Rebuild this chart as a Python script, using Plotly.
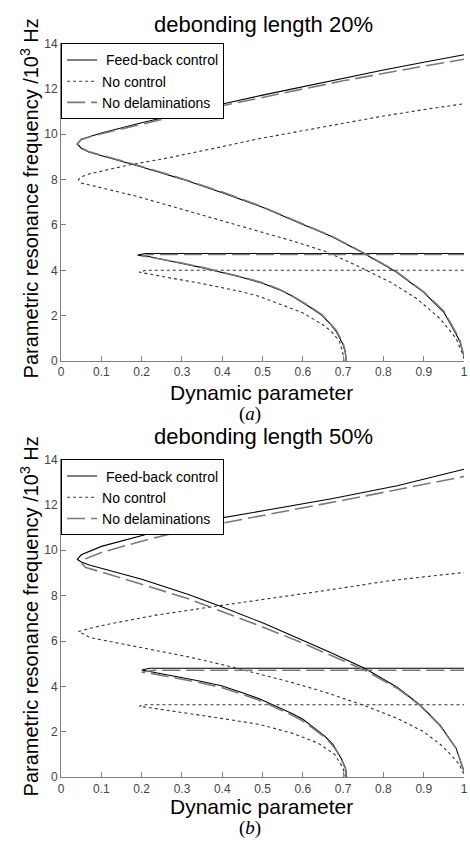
import plotly.graph_objects as go

# ---------------- data ----------------
series_names = [" Feed-back control", "No control", "No delaminations"]
x_tick_vals = [0, 0.1, 0.2, 0.3, 0.4, 0.5, 0.6, 0.7, 0.8, 0.9, 1]
x_tick_text = ["0", "0.1", "0.2", "0.3", "0.4", "0.5", "0.6", "0.7", "0.8", "0.9", "1"]
y_tick_vals = [0, 2, 4, 6, 8, 10, 12, 14]
panel_titles = ["debonding length 20%", "debonding length 50%"]
panel_tags = ["(<i>a</i>)", "(<i>b</i>)"]

# ---- panel (a): debonding length 20% ----
fb_a_x = [1.0, 0.99, 0.98, 0.95, 0.9, 0.83, 0.75, 0.67, 0.59, 0.5, 0.4, 0.3, 0.2, 0.12, 0.07, 0.05, 0.04,
          0.05, 0.07, 0.1, 0.2, 0.3, 0.4, 0.5, 0.6, 0.7, 0.8, 0.9, 1.0, None,
          0.708, 0.705, 0.7, 0.69, 0.683, 0.665, 0.647, 0.62, 0.598, 0.57, 0.541, 0.5, 0.45, 0.4, 0.35, 0.3, 0.25, 0.22, 0.19,
          0.21, 1.0]
fb_a_y = [0.2, 0.85, 1.2, 2.15, 3.03, 3.95, 4.76, 5.5, 6.1, 6.78, 7.42, 8.02, 8.55, 8.95, 9.2, 9.38, 9.57,
          9.78, 9.9, 10.05, 10.5, 10.93, 11.33, 11.72, 12.1, 12.47, 12.83, 13.17, 13.5, None,
          0.0, 0.4, 0.72, 1.1, 1.3, 1.7, 2.02, 2.35, 2.6, 2.9, 3.15, 3.43, 3.68, 3.9, 4.12, 4.3, 4.5, 4.6, 4.67,
          4.74, 4.74]

nc_a_x = [1.0, 0.997, 0.98, 0.94, 0.883, 0.818, 0.736, 0.655, 0.573, 0.49, 0.4, 0.316, 0.25, 0.19, 0.12, 0.07, 0.05, 0.043,
          0.05, 0.07, 0.12, 0.17, 0.25, 0.316, 0.4, 0.491, 0.6, 0.7, 0.8, 0.9, 1.0, None,
          0.702, 0.7, 0.691, 0.671, 0.65, 0.63, 0.6, 0.573, 0.53, 0.492, 0.45, 0.398, 0.34, 0.275, 0.23, 0.194,
          0.21, 1.0]
nc_a_y = [0.1, 0.29, 1.01, 1.88, 2.75, 3.47, 4.19, 4.84, 5.3, 5.72, 6.2, 6.62, 6.95, 7.25, 7.55, 7.75, 7.85, 8.0,
          8.12, 8.25, 8.45, 8.65, 8.9, 9.13, 9.45, 9.8, 10.15, 10.5, 10.8, 11.08, 11.34, None,
          0.0, 0.29, 0.87, 1.3, 1.6, 1.81, 2.12, 2.31, 2.6, 2.85, 3.05, 3.25, 3.45, 3.65, 3.8, 3.92,
          4.0, 4.0]

nd_a_x = [1.0, 0.99, 0.98, 0.95, 0.9, 0.83, 0.75, 0.67, 0.59, 0.5, 0.4, 0.3, 0.2, 0.12, 0.07, 0.05, 0.04,
          0.05, 0.07, 0.1, 0.2, 0.3, 0.4, 0.5, 0.6, 0.7, 0.8, 0.9, 1.0, None,
          0.708, 0.705, 0.7, 0.69, 0.683, 0.665, 0.647, 0.62, 0.598, 0.57, 0.541, 0.5, 0.45, 0.4, 0.35, 0.3, 0.25, 0.22, 0.2,
          0.22, 1.0]
nd_a_y = [0.2, 0.9, 1.25, 2.2, 3.05, 3.97, 4.78, 5.52, 6.12, 6.8, 7.45, 8.04, 8.58, 8.97, 9.22, 9.4, 9.57,
          9.76, 9.88, 10.02, 10.45, 10.86, 11.25, 11.63, 11.99, 12.35, 12.68, 13.0, 13.3, None,
          0.0, 0.45, 0.78, 1.15, 1.35, 1.72, 2.05, 2.38, 2.62, 2.92, 3.17, 3.45, 3.7, 3.92, 4.13, 4.32, 4.5, 4.58, 4.63,
          4.7, 4.7]

# ---- panel (b): debonding length 50% ----
fb_b_x = [1.0, 0.997, 0.98, 0.94, 0.89, 0.834, 0.753, 0.67, 0.59, 0.5, 0.4, 0.316, 0.2, 0.153, 0.1, 0.07, 0.05, 0.04,
          0.05, 0.07, 0.1, 0.222, 0.345, 0.508, 0.671, 0.834, 1.0, None,
          0.709, 0.706, 0.696, 0.685, 0.675, 0.655, 0.63, 0.6, 0.573, 0.53, 0.492, 0.45, 0.398, 0.34, 0.275, 0.23, 0.2,
          0.22, 1.0]
fb_b_y = [0.25, 0.42, 1.29, 2.3, 3.19, 3.96, 4.8, 5.48, 6.1, 6.8, 7.5, 8.05, 8.72, 8.94, 9.2, 9.35, 9.48, 9.6,
          9.8, 9.95, 10.17, 10.75, 11.26, 11.76, 12.27, 12.84, 13.57, None,
          0.0, 0.4, 0.8, 1.15, 1.43, 1.8, 2.15, 2.55, 2.8, 3.15, 3.45, 3.72, 4.03, 4.25, 4.46, 4.62, 4.72,
          4.8, 4.8]

nc_b_x = [1.0, 0.995, 0.989, 0.948, 0.899, 0.834, 0.752, 0.654, 0.573, 0.492, 0.414, 0.316, 0.194, 0.12, 0.072, 0.043,
          0.072, 0.12, 0.235, 0.398, 0.491, 0.654, 0.817, 1.0, None,
          0.706, 0.705, 0.699, 0.679, 0.638, 0.573, 0.491, 0.398, 0.275, 0.194,
          0.21, 1.0]
nc_b_y = [0.15, 0.27, 0.56, 1.35, 2.01, 2.59, 3.16, 3.75, 4.17, 4.55, 4.9, 5.3, 5.72, 5.98, 6.15, 6.42,
          6.56, 6.75, 7.14, 7.57, 7.8, 8.22, 8.66, 9.02, None,
          0.0, 0.06, 0.42, 1.0, 1.5, 1.94, 2.33, 2.59, 2.9, 3.13,
          3.19, 3.19]

nd_b_x = [1.0, 0.997, 0.98, 0.94, 0.89, 0.834, 0.753, 0.67, 0.59, 0.5, 0.4, 0.316, 0.2, 0.1, 0.06, 0.05,
          0.06, 0.1, 0.2, 0.3, 0.4, 0.5, 0.6, 0.7, 0.8, 0.9, 1.0, None,
          0.708, 0.705, 0.695, 0.684, 0.673, 0.653, 0.628, 0.598, 0.57, 0.528, 0.49, 0.45, 0.398, 0.34, 0.275, 0.23, 0.2,
          0.23, 1.0]
nd_b_y = [0.25, 0.42, 1.27, 2.28, 3.17, 3.92, 4.72, 5.38, 5.98, 6.62, 7.3, 7.86, 8.5, 9.05, 9.25, 9.45,
          9.62, 9.9, 10.4, 10.85, 11.2, 11.53, 11.87, 12.2, 12.55, 12.9, 13.25, None,
          0.0, 0.4, 0.8, 1.15, 1.42, 1.78, 2.12, 2.5, 2.76, 3.1, 3.4, 3.65, 3.95, 4.18, 4.4, 4.55, 4.62,
          4.71, 4.71]

# ---------------- figure ----------------
W, H = 470, 854
FONT = "Liberation Sans, Arial, sans-serif"

def px_x(p):
    return p / W

def px_y(p):
    return 1 - p / H

styles = [
    dict(color="#000000", width=1.1, dash="solid"),
    dict(color="#333333", width=1.1, dash="3px,3px"),
    dict(color="#7a7a7a", width=1.6, dash="18px,6px"),
]

panels = [
    (fb_a_x, fb_a_y, nc_a_x, nc_a_y, nd_a_x, nd_a_y),
    (fb_b_x, fb_b_y, nc_b_x, nc_b_y, nd_b_x, nd_b_y),
]

fig = go.Figure()
for i, pan in enumerate(panels):
    xa = "x" if i == 0 else "x2"
    ya = "y" if i == 0 else "y2"
    lg = "legend" if i == 0 else "legend2"
    for k in range(3):
        fig.add_trace(go.Scatter(
            x=pan[2 * k], y=pan[2 * k + 1], mode="lines", name=series_names[k],
            line=styles[k], xaxis=xa, yaxis=ya, legend=lg, connectgaps=False,
            hoverinfo="skip", cliponaxis=False))

xdom = [px_x(59), px_x(468)]
top_dom = [px_y(360), px_y(37)]
bot_dom = [px_y(783), px_y(460)]

axis_common = dict(showgrid=False, zeroline=False, showline=True, linecolor="#808080", linewidth=1,
                   ticks="inside", ticklen=5, tickcolor="#808080", tickwidth=1,
                   ticklabeloverflow="allow",
                   tickfont=dict(family=FONT, size=12, color="#444444"), mirror=False)

fig.update_layout(
    width=W, height=H, margin=dict(l=0, r=0, t=0, b=0),
    paper_bgcolor="white", plot_bgcolor="white",
    xaxis=dict(domain=xdom, range=[0, 1], anchor="y", tickvals=x_tick_vals, ticktext=x_tick_text, **axis_common),
    yaxis=dict(domain=top_dom, range=[0, 14], anchor="x", tickvals=y_tick_vals, **axis_common),
    xaxis2=dict(domain=xdom, range=[0, 1], anchor="y2", tickvals=x_tick_vals, ticktext=x_tick_text, **axis_common),
    yaxis2=dict(domain=bot_dom, range=[0, 14], anchor="x2", tickvals=y_tick_vals, **axis_common),
    showlegend=True,
    legend=dict(x=px_x(59), y=px_y(37), xanchor="left", yanchor="top", bgcolor="white",
                bordercolor="black", borderwidth=1, tracegroupgap=0,
                font=dict(family=FONT, size=14, color="black")),
    legend2=dict(x=px_x(59), y=px_y(460), xanchor="left", yanchor="top", bgcolor="white",
                 bordercolor="black", borderwidth=1, tracegroupgap=0,
                 font=dict(family=FONT, size=14, color="black")),
)

ann = []
title_y = [18, 437]
xtitle_y = [392, 813]
tag_y = [414, 835]
ytitle_y = [195, 620]
for i in range(2):
    ann.append(dict(text=panel_titles[i], x=px_x(264), y=px_y(title_y[i]), xref="paper", yref="paper",
                    xanchor="center", yanchor="middle", showarrow=False,
                    font=dict(family=FONT, size=22, color="black")))
    ann.append(dict(text="Dynamic parameter", x=px_x(262), y=px_y(xtitle_y[i]), xref="paper", yref="paper",
                    xanchor="center", yanchor="middle", showarrow=False,
                    font=dict(family=FONT, size=21, color="black")))
    ann.append(dict(text=panel_tags[i], x=px_x(251), y=px_y(tag_y[i]), xref="paper", yref="paper",
                    xanchor="center", yanchor="middle", showarrow=False,
                    font=dict(family="Liberation Serif, Times New Roman, serif", size=19, color="black")))
    ann.append(dict(text="Parametric resonance frequency /10<sup>3</sup> Hz", x=px_x(27), y=px_y(ytitle_y[i]),
                    xref="paper", yref="paper", xanchor="center", yanchor="middle", textangle=-90,
                    showarrow=False, font=dict(family=FONT, size=20, color="black")))
fig.update_layout(annotations=ann)

fig.write_html("out.html", config={"displayModeBar": False},
               post_script="document.body.style.margin='0';document.body.style.overflow='hidden';")
